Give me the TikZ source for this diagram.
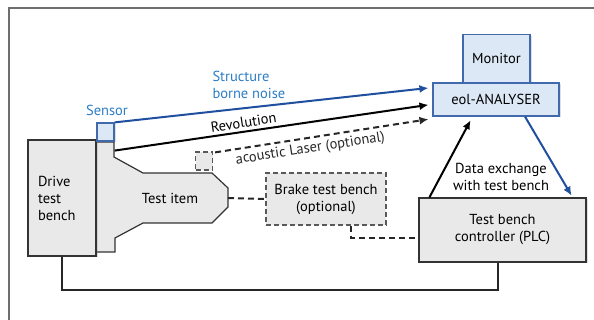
\documentclass[tikz,border=0pt]{standalone}
\usepackage{fontspec}
\setmainfont{PT Sans}
\usetikzlibrary{arrows.meta,calc,shadows,positioning}

\definecolor{boxgray}{HTML}{E9E9EA}
\definecolor{boxblue}{HTML}{DCE8F6}
\definecolor{linblue}{HTML}{1F4F9E}
\definecolor{txtblue}{HTML}{2B7DC6}
\definecolor{framegray}{HTML}{6E6E6E}

\tikzset{
  graybox/.style={draw=black!80, fill=boxgray, line width=1.2pt, inner sep=0pt,
    drop shadow={shadow xshift=1.5pt, shadow yshift=-1.5pt, opacity=0.25}},
  bluebox/.style={draw=linblue!85, fill=boxblue, line width=1.2pt, inner sep=0pt,
    drop shadow={shadow xshift=1.5pt, shadow yshift=-1.5pt, opacity=0.25}},
  optbox/.style={draw=black!65, fill=boxgray, line width=1.2pt, inner sep=0pt,
    dash pattern=on 5pt off 3pt},
  sig/.style={line width=2pt, -{Latex[length=9pt,width=8pt]}, shorten >=4pt},
  optline/.style={line width=2pt, dash pattern=on 6pt off 4pt, black!85},
  linelbl/.style={sloped, inner sep=0.5pt}
}

\begin{document}
\begin{tikzpicture}[x=1pt,y=-1pt,font=\fontsize{14.5}{17}\selectfont]
        \useasboundingbox (0,0) rectangle (594,320);
        % outer frame
        \draw[framegray, line width=1.5pt] (9,320) -- (9,8) -- (594,8);

        % test item (shaft and body)
        \draw[draw=black!80, fill=boxgray, line width=1.2pt]
          (97,142) -- (114,142) -- (114,157) -- (143,173) -- (212,173) -- (228,188)
          -- (228,207) -- (212,223) -- (143,223) -- (115,238) -- (115,252) -- (97,252);
        \node (item) at (170,198) {Test item};
        \coordinate (itemtip) at (228,198);

        % boxes
        \node[graybox, minimum width=68, minimum height=116, align=left, text width=48]
          (drive) at (62,198) {Drive\\test\\bench};
        \node[bluebox, minimum width=17, minimum height=18] (sensor) at (105.5,132) {};
        \node[txtblue] (sensorlbl) at (107,110) {Sensor};
        \node[optbox, minimum width=17, minimum height=18] (laser) at (204,161) {};
        \node[optbox, minimum width=120, minimum height=52, align=center]
          (brake) at (326,199) {Brake test bench\\(optional)};
        \node[graybox, minimum width=167, minimum height=64, align=center]
          (plc) at (502.5,230) {Test bench\\controller (PLC)};
        \node[bluebox, minimum width=67, minimum height=48] (monitor) at (496.5,58.5) {Monitor};
        \node[bluebox, minimum width=126, minimum height=33] (eol) at (496,99.5) {eol-ANALYSER};

        % signals to the analyser
        \draw[sig, linblue] (sensor.north east) -- ($(eol.north west)!0.15!(eol.south west)$);
        \node[txtblue, anchor=west, align=left] (noiselbl) at (209,85) {Structure\\borne noise};
        \draw[sig] ([yshift=-9pt]sensor.south east) -- ($(eol.north west)!0.64!(eol.south west)$)
          node[linelbl, pos=0.41, above=2.5pt] {Revolution};
        \draw[sig, optline] ([xshift=2pt,yshift=-1pt]laser.north east) -- ([yshift=-2pt]eol.south west)
          node[linelbl, pos=0.43, below=3pt] {acoustic Laser (optional)};

        % data exchange
        \draw[sig, shorten >=3pt] ([xshift=11pt]plc.north west) -- ([xshift=-24pt,yshift=-1pt]eol.south);
        \draw[sig, linblue, shorten >=2pt] ([xshift=29pt]eol.south) -- ([xshift=-14pt]plc.north east);
        \node[align=center] (datalbl) at (501,177) {Data exchange\\with test bench};

        % other links
        \draw[optline] (itemtip) -- (brake.west);
        \draw[optline] ([xshift=25pt]brake.south) |- ([yshift=-8pt]plc.west);
        \draw[line width=2pt, black!85] (drive.south) -- ++(0,33) -| ([xshift=-4.5pt]plc.south);
\end{tikzpicture}
\end{document}
